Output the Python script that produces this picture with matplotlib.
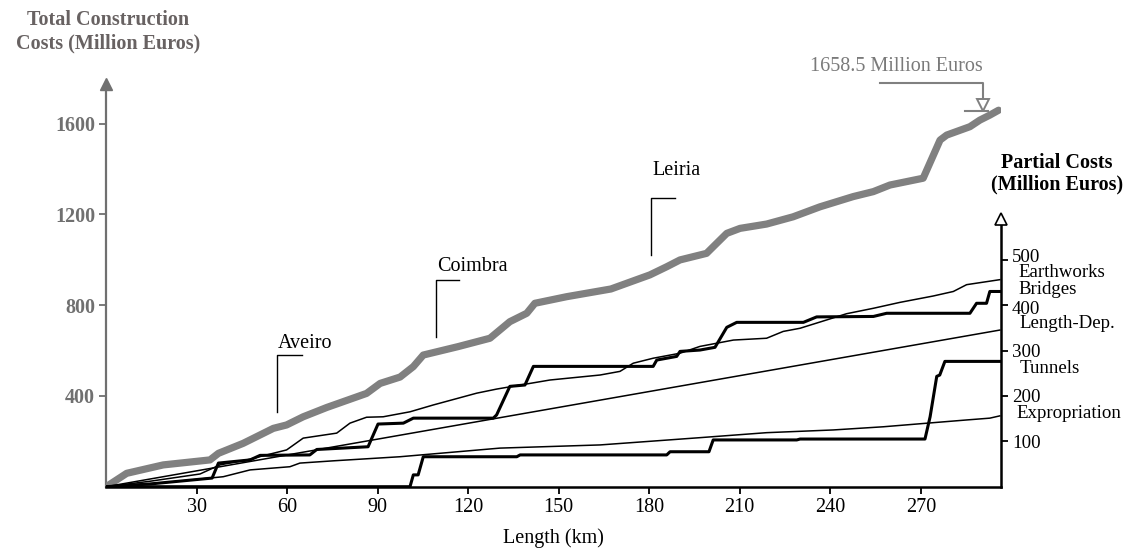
import matplotlib
matplotlib.use('Agg')
import matplotlib.pyplot as plt
from matplotlib.transforms import blended_transform_factory as btf, ScaledTranslation

plt.rcParams['font.family'] = ['Liberation Serif', 'DejaVu Serif']

# ---------------- data ----------------
total_km = [0, 6.8, 18.9, 34.4, 37.2, 45.4, 55.4, 59.8, 65.3, 73.1, 86.3, 90.8, 97.4,
            101.8, 105.1, 116.6, 127.2, 133.8, 139.4, 142.1, 152.6, 167.3, 172.5,
            180.2, 185.8, 190.2, 199.0, 201.2, 205.7, 210.1, 218.9, 227.7, 236.6,
            247.6, 254.3, 259.8, 270.8, 276.4, 278.6, 286.3, 289.6, 292.9, 295.8]
total_cost = [0, 59, 96, 118, 147, 191, 257, 272, 308, 349, 411, 455, 483,
              529, 580, 617, 654, 727, 764, 808, 837, 871, 896,
              933, 969, 999, 1028, 1057, 1116, 1138, 1157, 1189, 1233,
              1278, 1300, 1329, 1359, 1527, 1549, 1586, 1615, 1637, 1658.5]

earth_km = [0, 14.5, 31.1, 37.7, 46.6, 59.8, 65.3, 76.4, 80.8, 86.3, 91.8, 100.7,
            108.4, 122.8, 129.4, 133.8, 147.1, 163.7, 170.3, 174.7, 181.3, 190.2,
            196.8, 207.9, 218.9, 224.4, 230.0, 245.4, 254.3, 263.1, 274.1, 280.8,
            285.2, 296.2]
earth_cost = [0, 12, 28, 48, 59, 81, 107, 118, 140, 153, 154, 165,
              180, 206, 215, 220, 235, 246, 254, 272, 283, 294,
              309, 323, 327, 342, 349, 381, 393, 406, 420, 430,
              445, 456]

bridge_km = [0, 14.5, 35.1, 37.2, 47.7, 51.0, 67.5, 69.8, 86.8, 90.1, 98.5, 101.8,
             128.3, 129.4, 133.8, 138.8, 141.6, 181.3, 182.5, 189.1, 190.2, 196.8,
             201.8, 205.7, 209.0, 231.1, 235.5, 254.3, 258.7, 286.3, 288.5, 291.8,
             292.9, 296.2]
bridge_cost = [0, 6, 19, 52, 59, 69, 70, 82, 88, 138, 140, 151,
               151, 158, 221, 224, 265, 265, 279, 287, 298, 301,
               307, 351, 362, 362, 374, 375, 382, 382, 404, 404,
               430, 430]

length_km = [0, 296.2]
length_cost = [0, 345]

tunnel_km = [0, 100.7, 101.8, 103.4, 105.1, 136.1, 137.2, 185.8, 186.9, 199.8,
             201.2, 228.9, 230.0, 271.4, 273.1, 275.3, 276.3, 278.0, 296.2]
tunnel_cost = [0, 0, 26, 26, 66, 66, 70, 70, 77, 77,
               103, 103, 105, 105, 154, 243, 246, 276, 276]

expro_km = [0, 17.8, 38.8, 47.7, 60.9, 64.2, 75.3, 97.4, 130.5, 163.7, 196.8,
            218.9, 241.0, 257.6, 274.1, 285.2, 292.9, 296.2]
expro_cost = [0, 8, 22, 37, 44, 52, 57, 66, 85, 92, 108,
              119, 125, 132, 141, 147, 151, 156]

x_ticks = [30, 60, 90, 120, 150, 180, 210, 240, 270]
left_ticks = [400, 800, 1200, 1600]
right_ticks = [100, 200, 300, 400, 500]
series_names = ['Earthworks', 'Bridges', 'Length-Dep.', 'Tunnels', 'Expropriation']
cities = ['Aveiro', 'Coimbra', 'Leiria']
total_final = 1658.5

# ---------------- styling / layout ----------------
GRAY = '#808080'
AXGRAY = '#707070'
TXTGRAY = '#686262'
FS = 14.5
FSR = 13.6
FSN = 13.6
W, H = 1141, 556

fig = plt.figure(figsize=(W / 100, H / 100), dpi=100)
ax = fig.add_axes([106.2 / W, (H - 486.7) / H, 894.5 / W, (486.7 - 78.1) / H])
ax.set_xlim(0, 296.5)
ax.set_ylim(0, 1800)
ax2 = ax.twinx()
ax2.set_ylim(0, 900)

for s in ['top', 'right']:
    ax.spines[s].set_visible(False)
for s in ['top', 'left', 'bottom']:
    ax2.spines[s].set_visible(False)
ax.spines['left'].set_color(AXGRAY)
ax.spines['left'].set_linewidth(1.6)
ax.spines['left'].set_bounds(0, 1775)
ax.spines['bottom'].set_color('black')
ax.spines['bottom'].set_linewidth(1.8)
ax2.spines['right'].set_color('black')
ax2.spines['right'].set_linewidth(1.8)
ax2.spines['right'].set_bounds(0, 580)

# axis arrow heads
ax.plot([0], [1774], marker='^', ms=8.3, color=AXGRAY, clip_on=False, zorder=5)
ax2.plot([296.5], [589], marker='^', ms=8.3, mfc='white', mec='black', mew=1.2,
         clip_on=False, zorder=5)

# ticks
ax.set_xticks(x_ticks)
ax.set_xticklabels([str(v) for v in x_ticks])
ax.tick_params(axis='x', length=5, width=1.3, pad=3, labelsize=FS, colors='black')
ax.set_yticks(left_ticks)
ax.set_yticklabels([str(v) for v in left_ticks])
ax.tick_params(axis='y', length=5, width=1.3, pad=3, labelsize=FS, color=AXGRAY,
               labelcolor=AXGRAY)
for t in ax.get_yticklabels():
    t.set_fontweight('bold')
ax2.set_yticks(right_ticks)
ax2.set_yticklabels([str(v) for v in right_ticks])
ax2.tick_params(axis='y', length=5, width=1.3, pad=3, labelsize=FSR, colors='black')
# small vertical nudges of the right tick labels (in points), as in the original
nudge = {500: 2.9, 400: -1.4}
for tick in ax2.yaxis.get_major_ticks():
    dy = nudge.get(int(round(tick.get_loc())), 0)
    if dy:
        lab = tick.label2
        lab.set_transform(lab.get_transform() +
                          ScaledTranslation(0, dy / 72, fig.dpi_scale_trans))

ax.set_xlabel('Length (km)', fontsize=FS, labelpad=8)

# ---------------- series ----------------
ax.plot(total_km, total_cost, color=GRAY, lw=5.2, solid_capstyle='round',
        solid_joinstyle='round', zorder=4)
ax2.plot(earth_km, earth_cost, color='black', lw=1.1)
ax2.plot(bridge_km, bridge_cost, color='black', lw=2.2)
ax2.plot(length_km, length_cost, color='black', lw=1.1)
ax2.plot(tunnel_km, tunnel_cost, color='black', lw=2.2)
ax2.plot(expro_km, expro_cost, color='black', lw=1.1)

# series labels next to right axis
lab_y = [471.8, 434.4, 358.4, 259.5, 160.5]
lab_dx = [0.0195, 0.0195, 0.0215, 0.0215, 0.0180]
tr = btf(ax2.transAxes, ax2.transData)
for name, y, dx in zip(series_names, lab_y, lab_dx):
    ax2.text(1 + dx, y, name, transform=tr, fontsize=FSN, ha='left', va='center',
             clip_on=False)

# city brackets
city_x = [56.5, 109.2, 180.5]
city_lo = [330, 661, 1021]
city_hi = [580, 911, 1270]
city_w = [8.3, 7.8, 8.1]
city_ty = [633, 969, 1395]
for name, x, lo, hi, w, ty in zip(cities, city_x, city_lo, city_hi, city_w, city_ty):
    ax.plot([x, x, x + w], [lo, hi, hi], color='black', lw=1.0)
    ax.text(x + 0.4, ty, name, fontsize=FS, ha='left', va='center')

# final value annotation
ax.plot([256.5, 290.5, 290.5], [1777, 1777, 1705], color=GRAY, lw=1.5, clip_on=False)
ax.plot([284.6, 292.3], [1656, 1656], color=GRAY, lw=1.5)
ax.plot([290.5], [1683], marker='v', ms=9, mfc='white', mec=GRAY, mew=1.4, zorder=6,
        clip_on=False)
ax.text(290.5, 1849, f'{total_final} Million Euros', fontsize=FS, color='#7a7a7a',
        ha='right', va='center', clip_on=False)

# axis titles
fig.text(108 / W, 1 - 20 / H, 'Total Construction', fontsize=FS, fontweight='bold',
         color=TXTGRAY, ha='center', va='center')
fig.text(108 / W, 1 - 43 / H, 'Costs (Million Euros)', fontsize=FS, fontweight='bold',
         color=TXTGRAY, ha='center', va='center')
fig.text(1057 / W, 1 - 162.7 / H, 'Partial Costs', fontsize=FS, fontweight='bold',
         color='black', ha='center', va='center')
fig.text(1057 / W, 1 - 184 / H, '(Million Euros)', fontsize=FS, fontweight='bold',
         color='black', ha='center', va='center')

fig.savefig('out.png', dpi=100)
